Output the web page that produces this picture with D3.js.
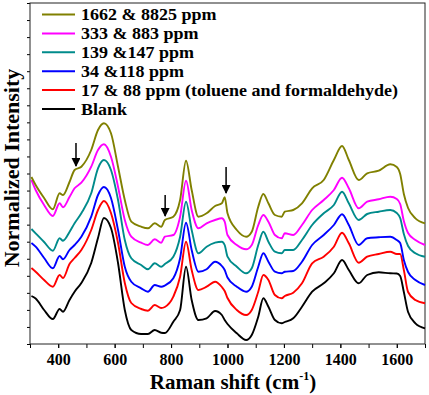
<!DOCTYPE html>
<html>
<head>
<meta charset="utf-8">
<script src="https://cdn.jsdelivr.net/npm/d3@7"></script>
<style>
  body { margin: 0; background: #fff; }
</style>
</head>
<body>
<svg id="chart"></svg>
<script>
const width = 429;
const height = 395;
const margin = {top: 3, left: 30, bottom: 51, right: 4};
const serif = "'Liberation Serif', 'Times New Roman', 'DejaVu Serif', serif";

// Raman shift (cm-1), shared by all spectra
const shift = [305, 320, 350, 381, 405, 417, 440, 458, 482, 517, 541, 562, 587, 612, 636, 659, 694, 718, 742, 765,
  778, 808, 832, 853, 873, 897, 926, 956, 980, 990, 1000, 1033, 1066, 1086, 1109, 1127, 1145, 1168, 1192, 1203,
  1233, 1264, 1300, 1341, 1377, 1406, 1430, 1465, 1495, 1536, 1577, 1600, 1612, 1625, 1640, 1666, 1700];

// normalized intensity (a.u., offset stacked as in the figure)
const blank = [48, 45.5, 34, 25, 35, 32.3, 44, 52.3, 61, 81, 106, 126, 116, 81, 34, 14, 10, 10, 14, 11.3,
  11, 22.3, 34, 77.3, 44, 24, 25.7, 33, 29, 24, 20, 10.7, 4, 9, 27.3, 45.7, 37.3, 24, 20.7, 22,
  25.7, 37.3, 52.3, 60.7, 70.7, 84, 74, 60.7, 69, 71.7, 70.7, 70.5, 68, 52, 32, 20.7, 15.7];
const ppm17 = [76, 72.3, 64, 57.3, 69, 66, 80, 86, 94, 114, 134, 143, 131, 101, 61, 41, 35, 33.3, 39, 36,
  37, 47.3, 67.3, 102.3, 74, 54, 57.3, 62.3, 57, 53, 46, 34, 29, 34, 52.3, 69, 64, 49, 45.7, 48,
  51.3, 60.7, 80.7, 87.3, 97.3, 111.3, 100.7, 81.3, 87.3, 90, 92.3, 90, 90, 74, 52, 44, 40.7];
const ppm34 = [101, 97.3, 86, 75.7, 88, 84.7, 94, 99, 107.3, 127.3, 149, 157, 146, 114, 77.3, 62.3, 55.7, 52.3, 59, 57.3,
  58.5, 65.7, 85.7, 121.3, 94, 72.3, 74.7, 82.3, 78, 74, 66.5, 57.3, 52.3, 57.3, 77.3, 90.7, 82.3, 72.3, 70.7, 72.3,
  73, 82.3, 99, 109, 119, 129.7, 119, 99, 105.7, 106.7, 107.3, 104, 101, 84, 72, 64, 59];
const ppm139 = [115, 110.7, 102, 93.3, 105.7, 103.3, 112, 120.7, 130.7, 150.7, 175.7, 184, 174, 144, 104, 85.7, 79, 74.7, 80.7, 77.3,
  80, 87.3, 107.3, 142.3, 114, 90.7, 97.3, 101.3, 102.3, 99, 87.3, 77.3, 70.7, 75.7, 99, 112.3, 102.3, 92.3, 90.7, 94,
  94, 104, 119, 130.7, 139, 152.3, 140.7, 124, 130, 132.3, 134, 131, 126, 110, 98, 90.7, 87.3];
const ppm333 = [164, 154, 139, 128, 140.7, 136.7, 147, 155.7, 161.3, 177.3, 194, 199.7, 187.3, 157.3, 124, 107.3, 101.3, 99, 104.7, 101.3,
  107.3, 109, 127.3, 163.3, 134, 115.7, 120.7, 124, 125.7, 122.3, 109, 99, 94.7, 99, 119, 129, 122.3, 109, 105.7, 110.7,
  109, 119, 134, 144, 154, 166.3, 155.7, 135.7, 142.3, 144.7, 147.3, 145, 140, 123, 111, 104, 99];
const ppm1662 = [167, 159, 146, 134.7, 150.7, 149, 162, 174, 177.3, 194, 214, 220.7, 210.7, 177.3, 144, 122.3, 117.3, 115.7, 120.7, 117.3,
  124, 127.3, 144, 183.3, 154, 127.3, 130.7, 138, 140.7, 146.7, 130.7, 114, 107.3, 112.3, 137.3, 150, 140.7, 129, 127.3, 132.3,
  134, 140.7, 155.7, 164, 184, 198, 184, 164, 170.7, 173.3, 179.7, 177, 170, 150, 136, 125.7, 120.7];

const seriesNames = ["1662 & 8825 ppm", "333 & 883 ppm", "139 &147 ppm", "34 &118 ppm",
  "17 & 88 ppm (toluene and formaldehyde)", "Blank"];
const seriesValues = [ppm1662, ppm333, ppm139, ppm34, ppm17, blank];
const seriesColors = ["#808000", "#ff00ff", "#008b8b", "#0000ff", "#ff0000", "#000000"];

// arrows marking the new bands
const arrowShift = [463, 779, 995];
const arrowTop = [201, 149, 177];
const arrowTip = [178, 128, 151];

const xTicks = [400, 600, 800, 1000, 1200, 1400, 1600];

const svg = d3.select("#chart")
  .attr("width", width)
  .attr("height", height);

const x = d3.scaleLinear()
  .domain([300, 1700])
  .range([margin.left, width - margin.right]);

const y = d3.scaleLinear()
  .domain([0, 341])
  .range([height - margin.bottom, margin.top]);

// minor ticks
svg.append("g")
  .attr("transform", `translate(0,${height - margin.bottom})`)
  .call(d3.axisBottom(x).tickValues(d3.range(300, 1701, 100)).tickSize(4).tickFormat(""))
  .call(g => g.select(".domain").remove());

svg.append("g")
  .attr("transform", `translate(0,${height - margin.bottom})`)
  .call(d3.axisBottom(x).tickValues(xTicks).tickSize(4).tickSizeOuter(0).tickFormat(d3.format("d")))
  .call(g => g.select(".domain").remove())
  .call(g => g.selectAll("text")
    .style("font-family", serif)
    .style("font-size", "16px")
    .style("font-weight", "bold")
    .attr("fill", "#000")
    .attr("dy", "0.88em"));

svg.append("g")
  .attr("transform", `translate(${margin.left},0)`)
  .call(d3.axisLeft(y).tickValues(d3.range(0, 342, 341 / 20)).tickSize(3).tickFormat(""))
  .call(g => g.select(".domain").remove());

svg.append("rect")
  .attr("x", margin.left)
  .attr("y", margin.top)
  .attr("width", width - margin.left - margin.right)
  .attr("height", height - margin.top - margin.bottom)
  .attr("fill", "none")
  .attr("stroke", "#222")
  .attr("stroke-width", 1);

const line = d3.line()
  .x((d, i) => x(shift[i]))
  .y(d => y(d))
  .curve(d3.curveMonotoneX);

svg.append("g")
  .selectAll("path")
  .data(seriesValues.slice().reverse())
  .join("path")
  .attr("d", line)
  .attr("fill", "none")
  .attr("stroke", (d, i) => seriesColors[seriesColors.length - 1 - i])
  .attr("stroke-width", 1.9)
  .attr("stroke-linejoin", "round");

// arrows
svg.append("defs").append("marker")
  .attr("id", "head")
  .attr("viewBox", "0 0 10 10")
  .attr("refX", 9).attr("refY", 5)
  .attr("markerWidth", 6).attr("markerHeight", 6)
  .attr("orient", "auto")
  .append("path")
  .attr("d", "M0,0L10,5L0,10Z")
  .attr("fill", "#000");

svg.append("g")
  .selectAll("line")
  .data(arrowShift)
  .join("line")
  .attr("x1", d => x(d))
  .attr("x2", d => x(d))
  .attr("y1", (d, i) => y(arrowTop[i]))
  .attr("y2", (d, i) => y(arrowTip[i]))
  .attr("stroke", "#000")
  .attr("stroke-width", 1.5)
  .attr("marker-end", "url(#head)");

// legend
const legend = svg.append("g")
  .selectAll("g")
  .data(seriesNames)
  .join("g")
  .attr("transform", (d, i) => `translate(42,${14.5 + i * 18.9})`);

legend.append("line")
  .attr("x1", 0).attr("x2", 33)
  .attr("stroke", (d, i) => seriesColors[i])
  .attr("stroke-width", 2);

legend.append("text")
  .attr("transform", "translate(39,0) scale(1.06,1)")
  .attr("dy", "0.35em")
  .style("font-family", serif)
  .style("font-weight", "bold")
  .style("font-size", "17px")
  .text(d => d);

// axis titles
const xt = svg.append("text")
  .attr("x", 233)
  .attr("y", 389)
  .attr("text-anchor", "middle")
  .style("font-family", serif)
  .style("font-weight", "bold")
  .style("font-size", "21px");
xt.append("tspan").text("Raman shift (cm");
xt.append("tspan").style("font-size", "12px").attr("dy", -9).text("-1");
xt.append("tspan").attr("dy", 9).text(")");

svg.append("text")
  .attr("transform", "translate(19,168) rotate(-90)")
  .attr("text-anchor", "middle")
  .style("font-family", serif)
  .style("font-weight", "bold")
  .style("font-size", "22px")
  .text("Normalized Intensity");
</script>
</body>
</html>
